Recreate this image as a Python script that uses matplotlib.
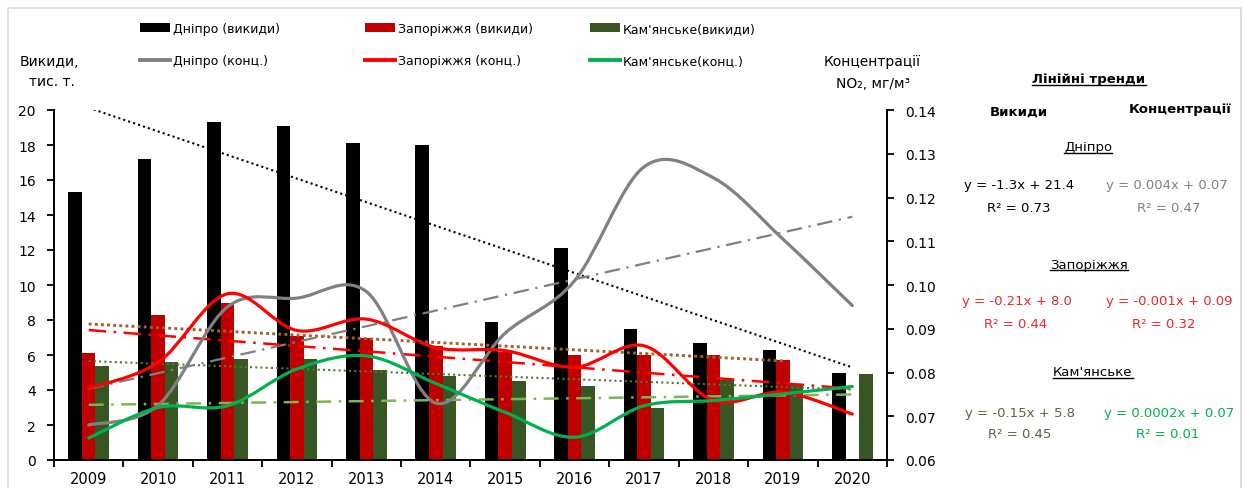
import matplotlib
matplotlib.use("Agg")
import matplotlib.pyplot as plt
from matplotlib.path import Path
from matplotlib.patches import PathPatch, Rectangle, Patch
from matplotlib.lines import Line2D
from matplotlib.transforms import IdentityTransform
import numpy as np

# ─────────────────────────────────────────────
# DATA
# ─────────────────────────────────────────────
years = ["2009", "2010", "2011", "2012", "2013", "2014",
         "2015", "2016", "2017", "2018", "2019", "2020"]

# emissions, thousand t
dnipro_emis = [15.3, 17.2, 19.3, 19.1, 18.1, 18.0, 7.9, 12.1, 7.5, 6.7, 6.3, 5.0]
zap_emis = [6.1, 8.3, 9.0, 7.1, 7.0, 6.5, 6.2, 6.0, 6.0, 6.0, 5.7, np.nan]
kam_emis = [5.4, 5.6, 5.8, 5.75, 5.15, 4.8, 4.5, 4.25, 3.0, 4.6, 4.3, 4.9]

# NO2 concentrations, mg/m3
dnipro_conc = [0.068, 0.0725, 0.095, 0.097, 0.0985, 0.073,
               0.089, 0.101, 0.127, 0.1245, 0.1105, 0.0953]
zap_conc = [0.0764, 0.0823, 0.098, 0.0896, 0.0922, 0.0857,
            0.085, 0.0812, 0.0861, 0.0736, 0.0755, 0.0705]
kam_conc = [0.065, 0.072, 0.0724, 0.0808, 0.0838, 0.0775,
            0.0709, 0.0652, 0.0724, 0.0736, 0.0751, 0.0768]

W, H = 1243, 489


def px(x, y):
    """pixel coords (from top-left) -> figure fraction"""
    return x / W, 1 - y / H


def smooth_path(x, y):
    # Excel-like smoothed line as cubic Bezier segments through the points
    pts = np.column_stack([x, y])
    n = len(pts)
    verts, codes = [pts[0]], [Path.MOVETO]
    for i in range(n - 1):
        p0, p1, p2 = pts[max(i - 1, 0)], pts[i], pts[i + 1]
        p3 = pts[min(i + 2, n - 1)]
        verts += [p1 + (p2 - p0) / 6, p2 - (p3 - p1) / 6, p2]
        codes += [Path.CURVE4] * 3
    return Path(verts, codes)


def trend(ax, y, color, ls, lw=1.5):
    y = np.asarray(y, dtype=float)
    x = np.arange(len(y))
    ok = ~np.isnan(y)
    k, b = np.polyfit(x[ok], y[ok], 1)
    xs = x[ok][[0, -1]]
    ax.plot(xs, k * xs + b, color=color, ls=ls, lw=lw,
            dash_capstyle="butt", zorder=4)


fig = plt.figure(figsize=(W / 100, H / 100), dpi=100)
fig.add_artist(Rectangle(px(8, 520), 1233 / W, 511 / H, fill=False,
                         edgecolor="#d9d9d9", lw=1.2,
                         transform=fig.transFigure))

ax1 = fig.add_axes([54 / W, 1 - 461 / H, 833 / W, 350 / H])
ax2 = ax1.twinx()

x = np.arange(len(years))
bw = 0.195
ax1.bar(x - bw, dnipro_emis, bw, color="#000000", zorder=2)
ax1.bar(x, zap_emis, bw, color="#C00000", zorder=2)
ax1.bar(x + bw, kam_emis, bw, color="#375623", zorder=2)

# linear trends
trend(ax1, dnipro_emis, "#000000", (0, (1, 1.5)))
trend(ax1, zap_emis, "#A0622D", (0, (1, 1.1)), lw=2.1)
trend(ax1, kam_emis, "#4E7A34", (0, (1, 1.5)))
trend(ax2, dnipro_conc, "#808080", (0, (7, 3, 1, 3)), lw=1.6)
trend(ax2, zap_conc, "#FF0000", (0, (7, 3, 1, 3)), lw=1.8)
trend(ax2, kam_conc, "#7DB554", (0, (6, 3, 1, 3)), lw=1.8)

for vals, col in [(dnipro_conc, "#808080"), (zap_conc, "#FF0000"),
                  (kam_conc, "#00B050")]:
    ax2.add_patch(PathPatch(smooth_path(x, vals), fill=False, edgecolor=col,
                            lw=2.3, capstyle="round", zorder=5))

ax1.set_ylim(0, 20)
ax1.set_yticks(range(0, 21, 2))
ax2.set_ylim(0.06, 0.14)
ax2.set_yticks(np.arange(0.06, 0.1401, 0.01))
ax2.set_yticklabels([f"{v:.2f}" for v in np.arange(0.06, 0.1401, 0.01)])
ax1.set_xlim(-0.5, 11.5)
ax1.set_xticks(np.arange(-0.5, 12, 1))
ax1.set_xticklabels([])
ax1.set_xticks(x, minor=True)
ax1.set_xticklabels(years, minor=True)
ax1.tick_params(axis="x", which="minor", length=0, pad=8, labelsize=10.5)
ax1.tick_params(axis="x", which="major", length=5, width=1.3, direction="out")
ax1.tick_params(axis="y", length=5, width=1.3, direction="out", labelsize=10,
                pad=8)
ax2.tick_params(axis="y", length=5, width=1.3, direction="out", labelsize=10,
                pad=8)

for ax in (ax1, ax2):
    ax.spines["top"].set_visible(False)
    for s in ("left", "right", "bottom"):
        ax.spines[s].set_linewidth(1.4)
ax1.spines["right"].set_visible(False)
ax2.spines["left"].set_visible(False)

# axis titles
fig.text(*px(49, 62), "Викиди,", ha="center", va="center", fontsize=10)
fig.text(*px(52, 82), "тис. т.", ha="center", va="center", fontsize=10)
fig.text(*px(872, 62), "Концентрації", ha="center", va="center", fontsize=10)
fig.text(*px(873, 84), "NO₂, мг/м³", ha="center", va="center", fontsize=10)

# legend: three columns, bars on top row, lines on second row
legend_cols = [
    (140, "#000000", "#808080", "Дніпро (викиди)", "Дніпро (конц.)"),
    (365, "#C00000", "#FF0000", "Запоріжжя (викиди)", "Запоріжжя (конц.)"),
    (590, "#375623", "#00B050", "Кам'янське(викиди)", "Кам'янське(конц.)"),
]
for xl, bar_c, line_c, lab1, lab2 in legend_cols:
    handles = [Patch(facecolor=bar_c), Line2D([], [], color=line_c, lw=2.8)]
    fig.legend(handles, [lab1, lab2], loc="upper left",
               bbox_to_anchor=px(xl, 23), frameon=False, fontsize=9,
               borderpad=0, borderaxespad=0, handlelength=2.4,
               handletextpad=0.25, labelspacing=1.55, handleheight=0.7)

# trend equations panel
panel = [
    (1089, 80, "Лінійні тренди", "#000000", True, True),
    (1019, 112, "Викиди", "#000000", True, False),
    (1180, 110, "Концентрації", "#000000", True, False),
    (1088, 148, "Дніпро", "#000000", False, True),
    (1019, 186, "y = -1.3x + 21.4", "#000000", False, False),
    (1019, 208, "R² = 0.73", "#000000", False, False),
    (1167, 186, "y = 0.004x + 0.07", "#808080", False, False),
    (1169, 208, "R² = 0.47", "#808080", False, False),
    (1089, 265, "Запоріжжя", "#000000", False, True),
    (1017, 302, "y = -0.21x + 8.0", "#E8262A", False, False),
    (1016, 325, "R² = 0.44", "#E8262A", False, False),
    (1169, 302, "y = -0.001x + 0.09", "#E8262A", False, False),
    (1164, 325, "R² = 0.32", "#E8262A", False, False),
    (1093, 373, "Кам'янське", "#000000", False, True),
    (1020, 413, "y = -0.15x + 5.8", "#4F6B3A", False, False),
    (1020, 435, "R² = 0.45", "#4F6B3A", False, False),
    (1169, 413, "y = 0.0002x + 0.07", "#00B050", False, False),
    (1168, 435, "R² = 0.01", "#00B050", False, False),
]
underlined = []
for xp, yp, txt, col, bold, ul in panel:
    t = fig.text(*px(xp, yp), txt, ha="center", va="center", fontsize=9.5,
                 color=col, fontweight="bold" if bold else "normal")
    if ul:
        underlined.append(t)

renderer = fig.canvas.get_renderer()
for t in underlined:
    bb = t.get_window_extent(renderer)
    fig.add_artist(Line2D([bb.x0, bb.x1], [bb.y0 + 1, bb.y0 + 1],
                          color="#000000", lw=1.0,
                          transform=IdentityTransform()))

fig.savefig("out.png", dpi=100)
